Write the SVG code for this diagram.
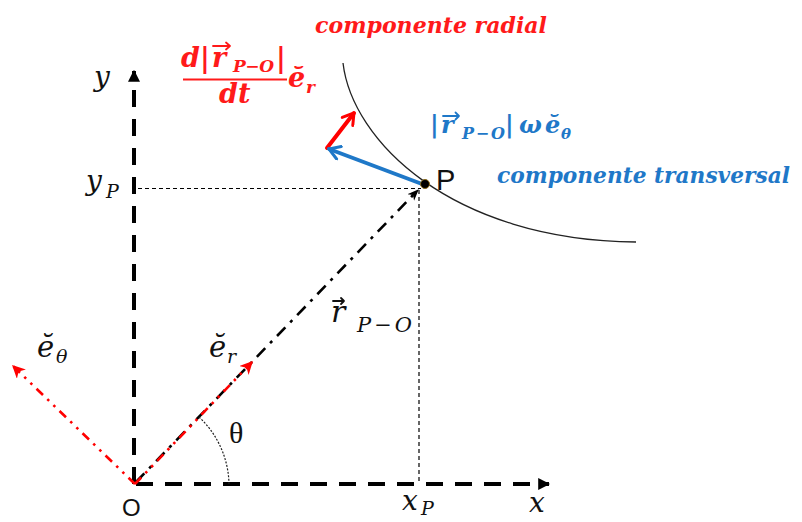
<svg xmlns="http://www.w3.org/2000/svg" width="802" height="522" viewBox="0 0 802 522">
<defs>
<style>
.axis{stroke:#000;stroke-width:4;stroke-dasharray:17 12;fill:none}
.guide{stroke:#000;stroke-width:1.2;stroke-dasharray:4 3;fill:none}
.rvec{stroke:#000;stroke-width:2.6;stroke-dasharray:12 7 3 7;fill:none}
.unit{stroke:#ff0000;stroke-width:2.6;stroke-dasharray:9 6 2.5 6 2.5 6;fill:none}
.math{font-family:"DejaVu Serif","Liberation Serif",serif;font-style:italic;fill:#111}
.red{font-family:"DejaVu Serif","Liberation Serif",serif;font-style:italic;font-weight:bold;fill:#ff1a1a}
.blue{font-family:"DejaVu Serif","Liberation Serif",serif;font-style:italic;font-weight:bold;fill:#1f78c8}
.up{font-style:normal}
.sans{font-family:"Liberation Sans",Arial,sans-serif;fill:#111}
.acc{fill:none;stroke-width:1.8;stroke-linecap:round;stroke-linejoin:round}
</style>
<marker id="axArrow" viewBox="0 0 10 10" refX="9" refY="5" markerWidth="3" markerHeight="3" orient="auto" markerUnits="strokeWidth">
<path d="M0,0 L10,5 L0,10 z" fill="#000"/>
</marker>
<marker id="blkArrow" viewBox="0 0 10 10" refX="9" refY="5" markerWidth="4.5" markerHeight="4.5" orient="auto" markerUnits="strokeWidth">
<path d="M0,1 L10,5 L0,9 L3,5 z" fill="#000"/>
</marker>
<marker id="redSmall" viewBox="0 0 10 10" refX="9" refY="5" markerWidth="5" markerHeight="5" orient="auto" markerUnits="strokeWidth">
<path d="M0,0 L10,5 L0,10 L3,5 z" fill="#ff0000"/>
</marker>
<marker id="redOpen" viewBox="0 0 12 12" refX="10" refY="6" markerWidth="4" markerHeight="4" orient="auto" markerUnits="strokeWidth">
<path d="M2,1 L10,6 L2,11" fill="none" stroke="#ff0000" stroke-width="2.2" stroke-linecap="round" stroke-linejoin="round"/>
</marker>
<marker id="blueOpen" viewBox="0 0 12 12" refX="2" refY="6" markerWidth="4" markerHeight="4" orient="auto" markerUnits="strokeWidth">
<path d="M2,6 L10,1 M2,6 L10,11" fill="none" stroke="#1f78c8" stroke-width="2.2" stroke-linecap="round"/>
</marker>
</defs>
<rect width="802" height="522" fill="#fff"/>

<g id="connectors">
<line id="axis-x" class="axis" x1="136" y1="484" x2="549" y2="484" marker-end="url(#axArrow)"/>
<line id="axis-y" class="axis" x1="134" y1="484" x2="134" y2="71" marker-end="url(#axArrow)"/>
<line id="guide-y" class="guide" x1="138" y1="188.5" x2="421" y2="188.5"/>
<line id="guide-x" class="guide" x1="419" y1="190" x2="419" y2="484"/>
<path id="trajectory" d="M343,63 C352,140 450,240 636,242" fill="none" stroke="#222" stroke-width="1.3"/>
<line id="r-vector" class="rvec" x1="136" y1="482" x2="418" y2="190" marker-end="url(#blkArrow)"/>
<line id="e-r" class="unit" x1="135" y1="484" x2="252" y2="362" marker-end="url(#redSmall)"/>
<line id="e-theta" class="unit" x1="135" y1="484" x2="13" y2="366" marker-end="url(#redSmall)"/>
<path id="theta-arc" d="M199,417 A94,94 0 0 1 229,484" fill="none" stroke="#222" stroke-width="1.2" stroke-dasharray="2 1.5"/>
<line id="radial-comp" x1="327" y1="148" x2="354" y2="113" stroke="#ff0000" stroke-width="4" stroke-linecap="round" marker-end="url(#redOpen)"/>
<line id="transv-comp" x1="329" y1="149" x2="422" y2="184" stroke="#1f78c8" stroke-width="4" stroke-linecap="round" marker-start="url(#blueOpen)"/>
</g>

<g id="node-P">
<circle cx="425" cy="184" r="4.5" fill="#000" stroke="#8a6a1a" stroke-width="1"/>
<text class="sans" x="436" y="190" font-size="29">P</text>
</g>

<g id="node-O">
<text class="sans" x="122" y="516" font-size="24">O</text>
</g>

<g id="labels">
<text class="math" x="94" y="86" font-size="28">y</text>
<text class="math" x="86" y="190" font-size="28">y</text>
<text class="math" x="106" y="198" font-size="19">P</text>
<text class="math" x="402" y="510" font-size="28">x</text>
<text class="math" x="421" y="515" font-size="19">P</text>
<text class="math" x="529" y="512" font-size="28">x</text>
<text x="229" y="443" font-size="30" font-family="'Liberation Serif',serif" fill="#111">θ</text>
<text class="math" x="209" y="357" font-size="29">ĕ</text>
<text class="math" x="227" y="363" font-size="19">r</text>
<text class="math" x="37" y="357" font-size="29">ĕ</text>
<text class="math" x="56" y="363" font-size="19">θ</text>
<text class="math" x="331" y="322" font-size="30">r</text>
<path class="acc" d="M333,301 H344 M341,298 L344,301 L341,304" stroke="#111"/>
<text class="math" x="357" y="332" font-size="21" textLength="55" lengthAdjust="spacing">P−O</text>
</g>

<g id="label-radial">
<text class="red" x="315" y="33" font-size="23" textLength="232" lengthAdjust="spacingAndGlyphs">componente radial</text>
<text class="red" x="181" y="67" font-size="27">d</text>
<text class="red up" x="200" y="67" font-size="27">|</text>
<text class="red" x="212" y="67" font-size="27">r</text>
<path class="acc" d="M213,46 H230 M226,42.5 L230,46 L226,49.5" stroke="#ff1a1a" stroke-width="2.2"/>
<text class="red" x="233" y="72" font-size="17" textLength="41" lengthAdjust="spacing">P−O</text>
<text class="red up" x="276" y="67" font-size="27">|</text>
<line x1="183" y1="79.5" x2="287" y2="79.5" stroke="#ff1a1a" stroke-width="1.8"/>
<text class="red" x="219" y="103" font-size="27">dt</text>
<text class="red" x="288" y="87" font-size="27">ĕ</text>
<text class="red" x="306" y="93" font-size="17">r</text>
</g>

<g id="label-transversal">
<text class="blue up" x="430" y="133" font-size="24">|</text>
<text class="blue" x="441" y="133" font-size="24">r</text>
<path class="acc" d="M443,116 H459 M455.5,112.5 L459,116 L455.5,119.5" stroke="#1f78c8" stroke-width="2.2"/>
<text class="blue" x="462" y="139" font-size="16" textLength="43" lengthAdjust="spacing">P−O</text>
<text class="blue up" x="505" y="133" font-size="24">|</text>
<text class="blue" x="519" y="133" font-size="24">ω</text>
<text class="blue" x="545" y="133" font-size="24">ĕ</text>
<text class="blue" x="561" y="139" font-size="15">θ</text>
<text class="blue" x="497" y="183" font-size="22" textLength="293" lengthAdjust="spacingAndGlyphs">componente transversal</text>
</g>
</svg>
